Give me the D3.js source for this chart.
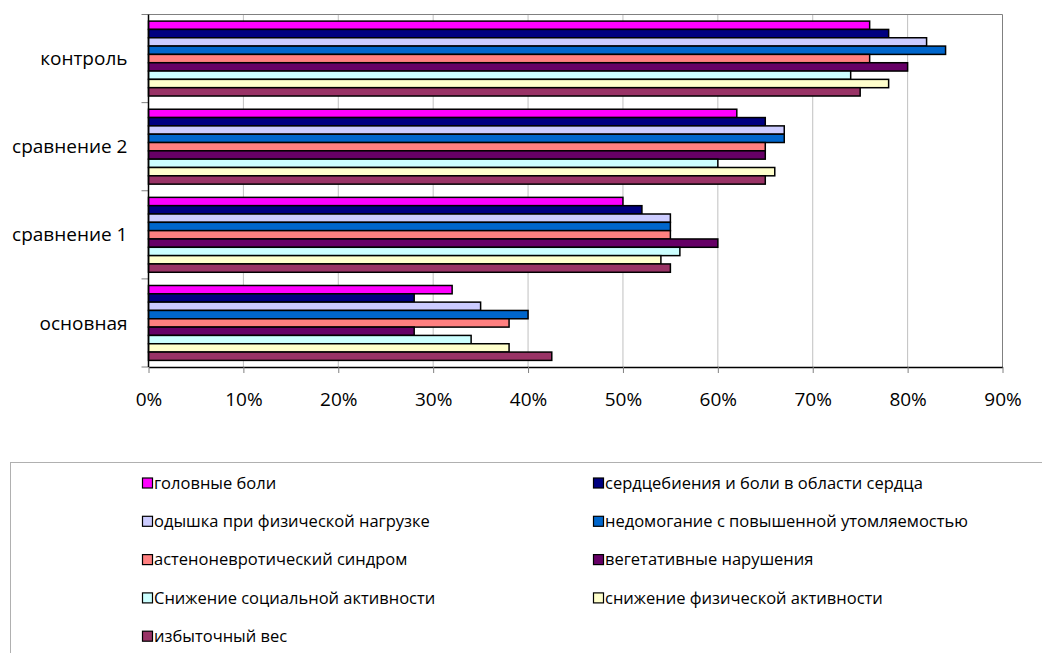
<!DOCTYPE html>
<html>
<head>
<meta charset="utf-8">
<script src="https://cdn.jsdelivr.net/npm/d3@7"></script>
<style>
  body { margin: 0; background: #fff; }
  svg text { font-family: "Open Sans", sans-serif; fill: #000; }
  .grid line { stroke: #c0c0c0; }
  .legend text { font-size: 16.5px; }
  .axis text { font-size: 19px; }
</style>
</head>
<body>
<script>
const categories = ['контроль', 'сравнение 2', 'сравнение 1', 'основная'];

const series = [
    'головные боли',
    'сердцебиения и боли в области сердца',
    'одышка при физической нагрузке',
    'недомогание с повышенной утомляемостью',
    'астеноневротический синдром',
    'вегетативные нарушения',
    'Снижение социальной активности',
    'снижение физической активности',
    'избыточный вес'
];

const colors = ['#ff00ff', '#000080', '#ccccff', '#0066cc', '#ff8080', '#660066', '#ccffff', '#ffffcc', '#993366'];

// values per category, in series order (%)
const kontrol = [76, 78, 82, 84, 76, 80, 74, 78, 75];
const sravn2 = [62, 65, 67, 67, 65, 65, 60, 66, 65];
const sravn1 = [50, 52, 55, 55, 55, 60, 56, 54, 55];
const osnovnaya = [32, 28, 35, 40, 38, 28, 34, 38, 42.5];

const xTicks = [0, 10, 20, 30, 40, 50, 60, 70, 80, 90];

const data = categories.map((c, i) => ({
    name: c,
    values: [kontrol, sravn2, sravn1, osnovnaya][i]
}));

const outerW = 1042,
    outerH = 653;

const margin = { left: 148.5, right: 39.5, top: 14.5, bottom: 286 };
const w = outerW - margin.left - margin.right,
    h = outerH - margin.top - margin.bottom;

const svg = d3.select('body').append('svg')
    .attr('width', outerW)
    .attr('height', outerH);

const g = svg.append('g')
    .attr('transform', `translate(${margin.left}, ${margin.top})`);

const x = d3.scaleLinear().domain([0, 90]).range([0, w]);
const y = d3.scaleBand().domain(categories).range([0, h])
    .paddingInner(0.15).paddingOuter(0.075);
const ys = d3.scaleBand().domain(series).range([0, y.bandwidth()]);

// gridlines
g.append('g')
    .attr('class', 'grid')
    .selectAll('line')
    .data(xTicks.slice(1, -1))
    .enter()
    .append('line')
    .attr('x1', d => x(d))
    .attr('x2', d => x(d))
    .attr('y1', 0)
    .attr('y2', h);

// plot border top/right
g.append('path')
    .attr('d', `M0,0H${w}V${h}`)
    .attr('fill', 'none')
    .attr('stroke', '#808080');

// bars
const gs = g.selectAll('.cat')
    .data(data)
    .enter()
    .append('g')
    .attr('class', 'cat')
    .attr('transform', d => `translate(0, ${y(d.name)})`);

gs.selectAll('rect')
    .data(d => d.values.map((v, i) => ({ s: series[i], v: v, c: colors[i] })))
    .enter()
    .append('rect')
    .attr('x', x(0))
    .attr('y', d => ys(d.s))
    .attr('width', d => x(d.v) - x(0))
    .attr('height', ys.bandwidth())
    .attr('fill', d => d.c)
    .attr('stroke', '#000')
    .attr('stroke-width', 1.5);

// x axis
const xAxis = g.append('g')
    .attr('class', 'x axis')
    .attr('transform', `translate(0, ${h})`)
    .call(d3.axisBottom(x)
        .tickValues(xTicks)
        .tickFormat(d => d + '%')
        .tickSize(6)
        .tickSizeOuter(0)
        .tickPadding(20)
    );
xAxis.select('.domain').attr('stroke', '#000').attr('stroke-width', 1.5);
xAxis.selectAll('.tick line').attr('stroke', '#808080');

// y axis: ticks at category boundaries
const yAxis = g.append('g').attr('class', 'y axis');
yAxis.selectAll('line')
    .data(d3.range(categories.length + 1))
    .enter()
    .append('line')
    .attr('x1', -7)
    .attr('x2', 0)
    .attr('y1', i => i * h / categories.length)
    .attr('y2', i => i * h / categories.length)
    .attr('stroke', '#808080');
yAxis.append('line')
    .attr('x1', 0).attr('x2', 0)
    .attr('y1', 0).attr('y2', h)
    .attr('stroke', '#000')
    .attr('stroke-width', 1.5);
yAxis.selectAll('text')
    .data(categories)
    .enter()
    .append('text')
    .attr('text-anchor', 'end')
    .attr('x', -21)
    .attr('y', d => y(d) + y.bandwidth() / 2)
    .attr('dy', '0.35em')
    .text(d => d);

// legend
const legend = svg.append('g').attr('class', 'legend');
legend.append('rect')
    .attr('x', 10.5)
    .attr('y', 462.5)
    .attr('width', 1100)
    .attr('height', 300)
    .attr('fill', 'none')
    .attr('stroke', '#b0b0b0');

const items = legend.selectAll('.item')
    .data(series)
    .enter()
    .append('g')
    .attr('class', 'item')
    .attr('transform', (d, i) => `translate(${i % 2 ? 593 : 142}, ${483 + Math.floor(i / 2) * 38.3})`);

items.append('rect')
    .attr('x', 0.5)
    .attr('y', -5)
    .attr('width', 10)
    .attr('height', 10)
    .attr('fill', (d, i) => colors[i])
    .attr('stroke', '#000')
    .attr('stroke-width', 1.2);

items.append('text')
    .attr('x', 12)
    .attr('y', 0)
    .attr('dy', '0.35em')
    .text(d => d);
</script>
</body>
</html>
